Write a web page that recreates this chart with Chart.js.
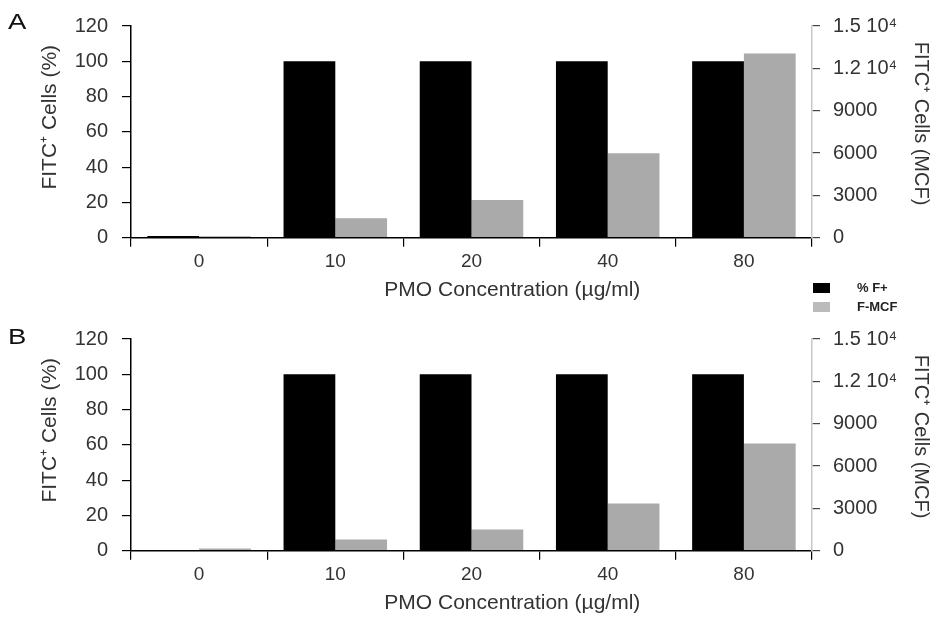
<!DOCTYPE html>
<html lang="en">
<head>
  <meta charset="UTF-8">
  <title>FITC+ cells vs PMO concentration</title>
  <script src="https://cdn.jsdelivr.net/npm/chart.js"></script>
  <style>
    body { margin: 0; background: #fff; font-family: "Liberation Sans", Arial, sans-serif; }
    #page { position: relative; width: 934px; height: 617px; }
    .panel { position: absolute; left: 0; width: 934px; height: 304px; }
    .panel-label { position: absolute; left: 8px; font-size: 22px; color: #111; transform: scaleX(1.25); transform-origin: left top; }
    #legend { position: absolute; left: 813px; top: 278px; font-size: 13px; font-weight: bold; color: #222; }
    .legend-item { display: flex; align-items: center; height: 19px; }
    .legend-box { width: 17px; height: 10px; margin-right: 27px; }
  </style>
</head>
<body>
  <div id="page">
    <div class="panel" style="top:0"><canvas id="chartA" width="934" height="304"></canvas></div>
    <div class="panel" style="top:313px"><canvas id="chartB" width="934" height="304"></canvas></div>
    <div class="panel-label" style="top:9px">A</div>
    <div class="panel-label" style="top:324px">B</div>
    <div id="legend"></div>
  </div>

  <script>
    // data
    const concentrations = ['0', '10', '20', '40', '80'];
    const seriesNames = ['% F+', 'F-MCF'];
    const seriesColors = ['#000000', '#aaaaaa'];

    // panel A
    const pctA = [1, 100, 100, 100, 100];
    const mcfA = [110, 1380, 2670, 5980, 13050];
    // panel B
    const pctB = [0, 100, 100, 100, 100];
    const mcfB = [150, 790, 1500, 3340, 7590];

    const pctTicks = [0, 20, 40, 60, 80, 100, 120];
    const mcfTicks = [0, 3000, 6000, 9000, 12000, 15000];

    const fontFamily = '"Liberation Sans", Arial, sans-serif';
    const textColor = '#333';

    // titles are not centred on the axis in the original, spaces nudge them
    const xTitle = '\u00a0'.repeat(14) + 'PMO Concentration (\u00b5g/ml)';
    const yTitle = '\u00a0'.repeat(5) + 'FITC\u207a Cells (%)';
    const y1Title = 'FITC\u207a Cells (MCF)' + '\u00a0'.repeat(3);

    function mcfLabel(v) {
      // 12000 -> "1.2 10⁴"
      if (v >= 10000) return (v / 10000).toFixed(1) + ' 10\u2074';
      return String(v);
    }

    function makeChart(canvasId, pct, mcf) {
      const ctx = document.getElementById(canvasId).getContext('2d');
      return new Chart(ctx, {
        type: 'bar',
        data: {
          labels: concentrations,
          datasets: [
            { label: seriesNames[0], data: pct, backgroundColor: seriesColors[0], yAxisID: 'y' },
            { label: seriesNames[1], data: mcf, backgroundColor: seriesColors[1], yAxisID: 'y1' }
          ]
        },
        options: {
          responsive: false,
          animation: false,
          barPercentage: 1,
          categoryPercentage: 0.76,
          layout: { padding: { top: 20, left: 0, right: 0, bottom: 0 } },
          plugins: { legend: { display: false }, tooltip: { enabled: false } },
          scales: {
            x: {
              afterFit: s => { s.height = 66.3; },
              grid: { drawOnChartArea: false, tickLength: 9, color: '#000', lineWidth: 1.2, offset: true },
              border: { color: '#000', width: 1.5 },
              ticks: { color: textColor, font: { family: fontFamily, size: 19 }, padding: 4 },
              title: {
                display: true, text: xTitle, color: textColor,
                font: { family: fontFamily, size: 21 }, padding: { top: 0, bottom: 1.6 }
              }
            },
            y: {
              position: 'left',
              min: 0, max: 120,
              afterFit: s => { s.width = 131; },
              afterBuildTicks: s => { s.ticks = pctTicks.map(v => ({ value: v })); },
              grid: { drawOnChartArea: false, tickLength: 9, color: '#000', lineWidth: 1.2 },
              border: { color: '#000', width: 1.5 },
              ticks: { color: textColor, font: { family: fontFamily, size: 20 }, padding: 14 },
              title: {
                display: true, text: yTitle, color: textColor,
                font: { family: fontFamily, size: 21 }, padding: { top: 38, bottom: 0 }
              }
            },
            y1: {
              position: 'right',
              min: 0, max: 15000,
              afterFit: s => { s.width = 122; },
              afterBuildTicks: s => { s.ticks = mcfTicks.map(v => ({ value: v })); },
              grid: { drawOnChartArea: false, tickLength: 8, color: '#444', lineWidth: 1.2 },
              border: { color: '#c8c8c8', width: 1.5 },
              ticks: { color: textColor, font: { family: fontFamily, size: 20 }, padding: 13, callback: v => mcfLabel(v) },
              title: {
                display: true, text: y1Title, color: textColor,
                font: { family: fontFamily, size: 20 }, padding: { top: 1.6, bottom: 0 }
              }
            }
          }
        }
      });
    }

    makeChart('chartA', pctA, mcfA);
    makeChart('chartB', pctB, mcfB);

    // legend sits between the two panels on the right
    const legend = document.getElementById('legend');
    seriesNames.forEach((name, i) => {
      const item = document.createElement('div');
      item.className = 'legend-item';
      item.innerHTML = `<span class="legend-box" style="background:${i === 1 ? '#bbbbbb' : seriesColors[i]}"></span><span>${name}</span>`;
      legend.appendChild(item);
    });
  </script>
</body>
</html>
